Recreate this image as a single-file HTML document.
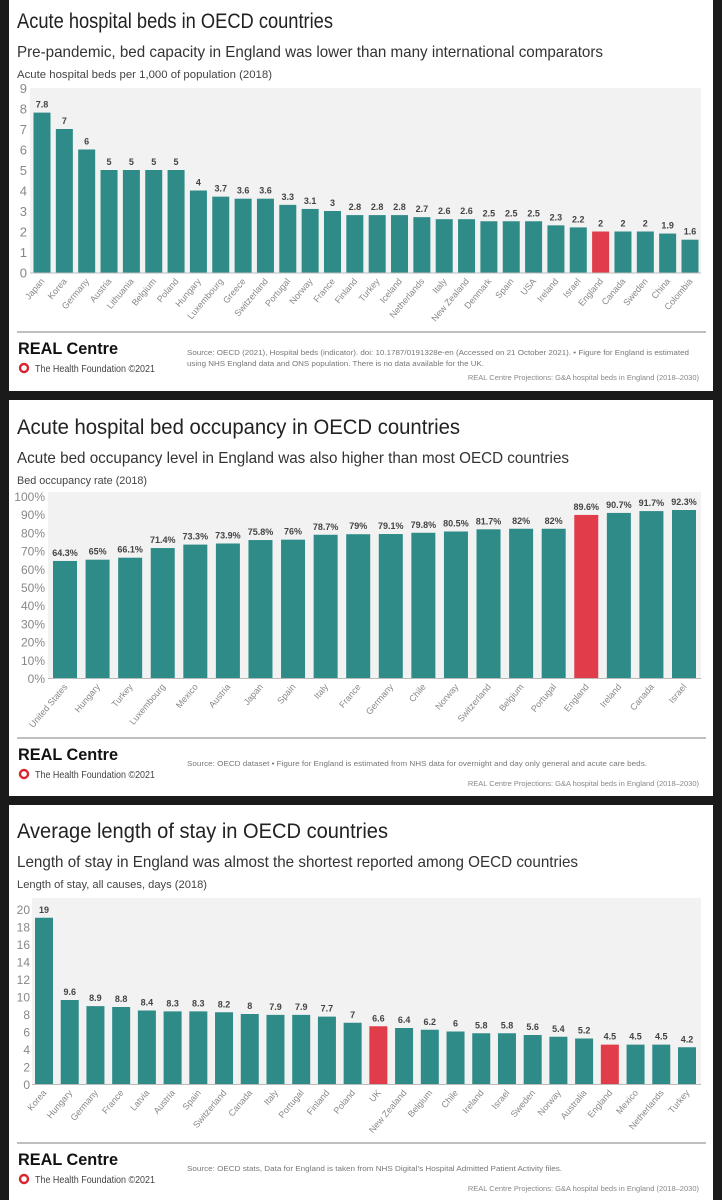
<!DOCTYPE html>
<html><head><meta charset="utf-8">
<style>
html,body{margin:0;padding:0;background:#1a1a1a;width:722px;height:1200px;overflow:hidden}
svg{display:block;font-family:"Liberation Sans",sans-serif}
</style></head>
<body>
<svg id="root" width="722" height="1200" viewBox="0 0 722 1200"></svg>
<script>
// Chart 1 data
const cats1 = ["Japan","Korea","Germany","Austria","Lithuania","Belgium","Poland","Hungary","Luxembourg","Greece","Switzerland","Portugal","Norway","France","Finland","Turkey","Iceland","Netherlands","Italy","New Zealand","Denmark","Spain","USA","Ireland","Israel","England","Canada","Sweden","China","Colombia"];
const vals1 = [7.8,7,6,5,5,5,5,4,3.7,3.6,3.6,3.3,3.1,3,2.8,2.8,2.8,2.7,2.6,2.6,2.5,2.5,2.5,2.3,2.2,2,2,2,1.9,1.6];
const ticks1 = ["0","1","2","3","4","5","6","7","8","9"];
// Chart 2 data
const cats2 = ["United States","Hungary","Turkey","Luxembourg","Mexico","Austria","Japan","Spain","Italy","France","Germany","Chile","Norway","Switzerland","Belgium","Portugal","England","Ireland","Canada","Israel"];
const vals2 = [64.3,65,66.1,71.4,73.3,73.9,75.8,76,78.7,79,79.1,79.8,80.5,81.7,82,82,89.6,90.7,91.7,92.3];
const ticks2 = [0,10,20,30,40,50,60,70,80,90,100];
// Chart 3 data
const cats3 = ["Korea","Hungary","Germany","France","Latvia","Austria","Spain","Switzerland","Canada","Italy","Portugal","Finland","Poland","UK","New Zealand","Belgium","Chile","Ireland","Israel","Sweden","Norway","Australia","England","Mexico","Netherlands","Turkey"];
const vals3 = [19,9.6,8.9,8.8,8.4,8.3,8.3,8.2,8,7.9,7.9,7.7,7,6.6,6.4,6.2,6,5.8,5.8,5.6,5.4,5.2,4.5,4.5,4.5,4.2];
const ticks3 = [0,2,4,6,8,10,12,14,16,18,20];
const red1 = ["England"], red2 = ["England"], red3 = ["UK","England"];

const NS="http://www.w3.org/2000/svg";
const root=document.getElementById('root');
function el(tag,attrs,parent,text){const e=document.createElementNS(NS,tag);for(const k in attrs)e.setAttribute(k,attrs[k]);if(text!==undefined)e.textContent=text;(parent||root).appendChild(e);return e;}

function panel(cfg){
  const g=el('g',{},root);
  
  
  const bg=el('rect',{x:9,y:cfg.top,width:704,height:cfg.bottom-cfg.top,fill:'#fff'},g);
  
  
  const t=el('text',{x:17,y:cfg.top+cfg.titleDy,'font-size':21,fill:'#222',textLength:cfg.titleW,lengthAdjust:'spacingAndGlyphs'},g,cfg.title);
  
  
  const s=el('text',{x:17,y:cfg.top+cfg.titleDy+29,'font-size':16,fill:'#333',textLength:cfg.subW,lengthAdjust:'spacingAndGlyphs'},g,cfg.sub);
  
  
  const c=el('text',{x:17,y:cfg.top+cfg.titleDy+50,'font-size':11,fill:'#444',textLength:cfg.capW,lengthAdjust:'spacingAndGlyphs'},g,cfg.cap);
  
  
  // plot
  const {x0,x1,yBase,pxPer,first,step,bw,plotTop}=cfg;
  const pb=el('rect',{x:x0,y:plotTop,width:x1-x0,height:yBase-plotTop,fill:'#f2f2f2'},g);
  
  
  const yS=v=>yBase-(v-0)*pxPer;
  cfg.ticks.forEach((tv,i)=>{
    const v=parseFloat(tv);
    const tl=el('text',{x:cfg.tickX,y:yS(v)+5,'font-size':cfg.tickFs,fill:'#888','text-anchor':'end'},g,cfg.tickFmt(tv));
    
    
  });
  cfg.cats.forEach((cat,i)=>{
    const v=cfg.vals[i];
    const xc=first+i*step;
    const isRed=cfg.red.includes(cat);
    const b=el('rect',{x:xc-bw/2,y:yS(v),width:bw,height:yBase-yS(v),fill:isRed?'#e03c4a':'#2e8b87'},g);
    
    
    const vl=el('text',{x:xc,y:yS(v)-5,'font-size':9,'font-weight':'bold',fill:'#444','text-anchor':'middle'},g,cfg.valFmt(v));
    
    
    const xl=el('text',{x:xc+3,y:yBase+9,'font-size':9,fill:'#888','text-anchor':'end',transform:`rotate(-50 ${xc+3} ${yBase+9})`},g,cat);
    
    
  });
  const ax=el('line',{x1:x0,x2:x1,y1:yBase+0.5,y2:yBase+0.5,stroke:'#bbb','stroke-width':1},g);
  
  
  // footer
  const F=cfg.footer;
  const ln=el('line',{x1:17,x2:706,y1:F,y2:F,stroke:'#999','stroke-width':1.3},g);
  
  
  const lg=el('text',{x:18,y:F+22,'font-size':17,'font-weight':'bold',fill:'#111',textLength:100,lengthAdjust:'spacingAndGlyphs'},g,'REAL Centre');
  
  
  const ci=el('circle',{cx:24,cy:F+36,r:4,fill:'none',stroke:'#d8262f','stroke-width':2.4},g);
  
  
  const hf=el('text',{x:35,y:F+40,'font-size':10,fill:'#444',textLength:120,lengthAdjust:'spacingAndGlyphs'},g,'The Health Foundation ©2021');
  
  
  cfg.src.forEach((line,i)=>{
    const st=el('text',{x:187,y:cfg.srcY+i*11,'font-size':7.5,fill:'#777',textLength:line[1],lengthAdjust:'spacingAndGlyphs'},g,line[0]);
    
    
  });
  const pj=el('text',{x:699,y:F+48,'font-size':7.5,fill:'#888','text-anchor':'end'},g,'REAL Centre Projections: G&A hospital beds in England (2018–2030)');
  
  
}

panel({name:'hospital-beds-panel',top:0,bottom:391,titleDy:28,
  title:'Acute hospital beds in OECD countries',titleW:316,
  sub:'Pre-pandemic, bed capacity in England was lower than many international comparators',subW:586,
  cap:'Acute hospital beds per 1,000 of population (2018)',capW:255,
  cats:cats1,vals:vals1,ticks:ticks1,red:red1,
  x0:30,x1:701,yBase:272.5,pxPer:20.5,plotTop:88,first:42,step:(690-42)/29,bw:17,
  tickX:27,tickFs:13,tickFmt:t=>t,valFmt:v=>String(v),
  footer:332,srcY:355,
  src:[['Source: OECD (2021), Hospital beds (indicator). doi: 10.1787/0191328e-en (Accessed on 21 October 2021). • Figure for England is estimated',502],['using NHS England data and ONS population. There is no data available for the UK.',297]]});

panel({name:'bed-occupancy-panel',top:400,bottom:796,titleDy:34,
  title:'Acute hospital bed occupancy in OECD countries',titleW:443,
  sub:'Acute bed occupancy level in England was also higher than most OECD countries',subW:552,
  cap:'Bed occupancy rate (2018)',capW:130,
  cats:cats2,vals:vals2,ticks:ticks2,red:red2,
  x0:48,x1:701,yBase:678,pxPer:1.82,plotTop:492,first:65,step:(684-65)/19,bw:24,
  tickX:45,tickFs:12,tickFmt:t=>t+'%',valFmt:v=>v+'%',
  footer:738,srcY:766,
  src:[['Source: OECD dataset • Figure for England is estimated from NHS data for overnight and day only general and acute care beds.',460]]});

panel({name:'length-of-stay-panel',top:805,bottom:1200,titleDy:33,
  title:'Average length of stay in OECD countries',titleW:371,
  sub:'Length of stay in England was almost the shortest reported among OECD countries',subW:561,
  cap:'Length of stay, all causes, days (2018)',capW:190,
  cats:cats3,vals:vals3,ticks:ticks3,red:red3,
  x0:32,x1:701,yBase:1084,pxPer:8.75,plotTop:898,first:44,step:(687-44)/25,bw:18,
  tickX:30,tickFs:12,tickFmt:t=>String(t),valFmt:v=>String(v),
  footer:1143,srcY:1171,
  src:[['Source: OECD stats, Data for England is taken from NHS Digital’s Hospital Admitted Patient Activity files.',375]]});
</script>
</body></html>
